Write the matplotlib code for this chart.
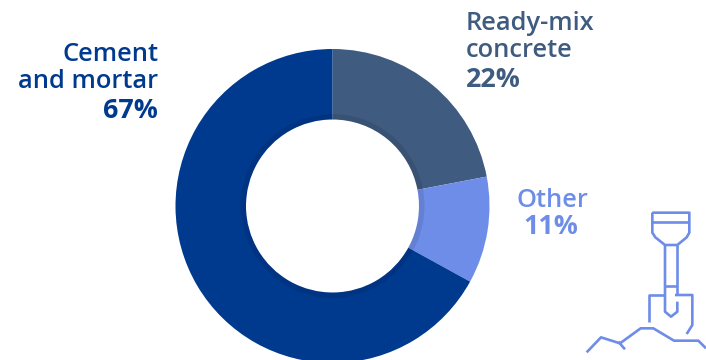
"""Donut of cement use by product, with a small shovel drawing in the corner."""
import matplotlib
matplotlib.use("Agg")
import matplotlib.pyplot as plt
from matplotlib.patches import Wedge

W, H = 706, 360
CX, CY, R, R_IN = 332.5, H - 206, 157, 86.5

names = [["Ready-mix", "concrete"], ["Other"], ["Cement", "and mortar"]]
values = [22, 11, 67]
colors = ["#3F5B80", "#6E8DE8", "#003A8F"]

# x anchors, alignment and baselines for each label (last line is the percent)
label_pos = [
    ([466, 466, 466], "left", [30, 57, 87]),
    ([517, 523], "left", [207, 234]),
    ([158, 158, 158], "right", [61, 88, 118]),
]

ICON = "#6E8DE8"
shovel_lines = [
    [(247, 38), (358, 38), (358, 98), (350, 112), (322, 135), (285, 135), (256, 112), (247, 98), (247, 38)],
    [(247, 66), (358, 66)],
    [(285, 135), (285, 335), (303, 350), (322, 335), (322, 305)],
    [(322, 135), (322, 285)],
    [(285, 258), (322, 258)],
    [(238, 365), (238, 285), (285, 285)],
    [(315, 285), (367, 285), (367, 375), (350, 402)],
    [(50, 457), (93, 412), (150, 430), (212, 385), (250, 385), (312, 422), (385, 422), (408, 445)],
    [(145, 425), (165, 448)],
]

plt.rcParams["font.family"] = ["Open Sans", "DejaVu Sans"]

fig = plt.figure(figsize=(W / 100, H / 100), dpi=100)
ax = fig.add_axes([0, 0, 1, 1])

ax.pie(values, colors=colors, startangle=90, counterclock=False, center=(CX, CY), radius=R,
       wedgeprops=dict(width=R - R_IN, linewidth=0))
ax.add_patch(Wedge((CX, CY), R_IN + 5.5, 0, 360, width=5.5, fc="black", ec="none", alpha=0.09))

ax.set_xlim(0, W)
ax.set_ylim(0, H)
ax.set_aspect("equal")
ax.axis("off")

for lines, v, c, (xs, ha, ys) in zip(names, values, colors, label_pos):
    for txt, x, y in zip(lines, xs, ys):
        ax.text(x, H - y, txt, color=c, fontsize=18.4, fontweight="semibold", ha=ha, va="baseline")
    ax.text(xs[-1], H - ys[-1], f"{v}%", color=c, fontsize=19.3, fontweight="bold", ha=ha, va="baseline")

# icon points are in zoomed page units, scale them down to pixels
for pts in shovel_lines:
    px = [570 + p[0] / 3 for p in pts]
    py = [H - (200 + p[1] / 3) for p in pts]
    ax.plot(px, py, color=ICON, lw=1.9, solid_joinstyle="round", solid_capstyle="butt")

fig.savefig("out.png", dpi=100)
